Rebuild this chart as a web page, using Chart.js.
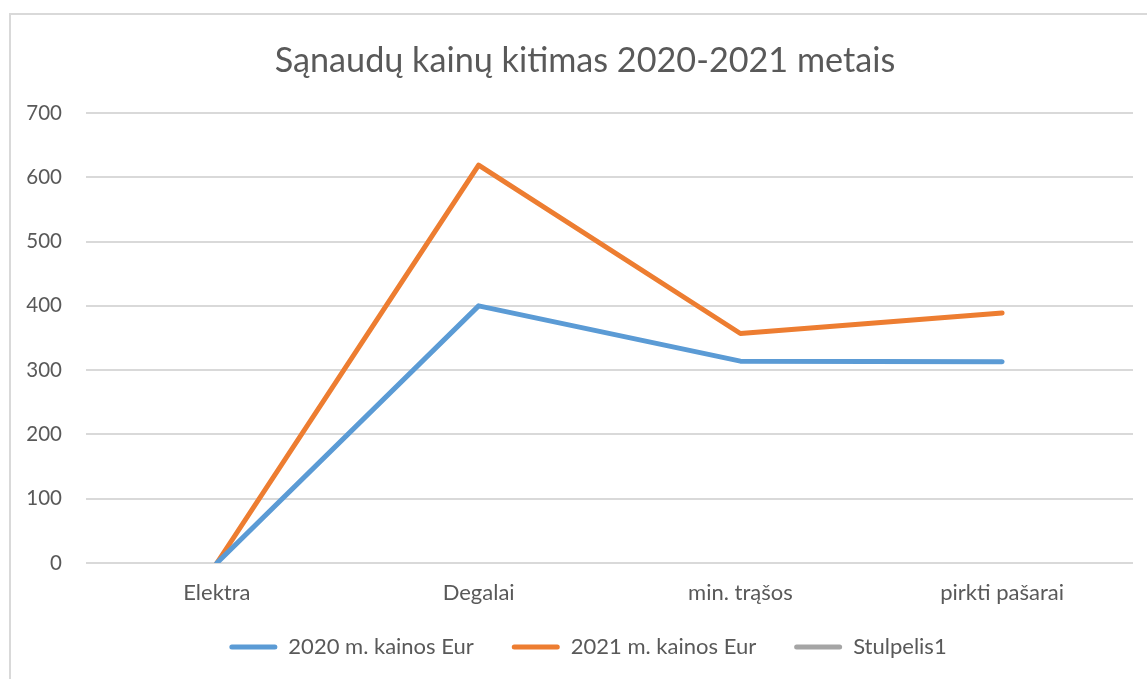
<!DOCTYPE html>
<html>
<head>
<meta charset="utf-8">
<script src="https://cdn.jsdelivr.net/npm/chart.js@4.4.1/dist/chart.umd.min.js"></script>
<style>
  html, body { margin: 0; padding: 0; background: #fff; overflow: hidden; }
  #box { position: absolute; left: 9px; top: 13px; width: 1140px; height: 664px; border: 2px solid #d9d9d9; }
  canvas { display: block; }
</style>
</head>
<body>
<div id="box"><canvas id="c" width="1140" height="664"></canvas></div>
<script>
const titleText = 'Sąnaudų kainų kitimas 2020-2021 metais';
const categories = ['Elektra', 'Degalai', 'min. trąšos', 'pirkti pašarai'];
const series2020 = [0, 400, 314, 313];
const series2021 = [0, 619, 357, 389];
const seriesStulpelis1 = [null, null, null, null];
const seriesNames = ['2020 m. kainos Eur', '2021 m. kainos Eur', 'Stulpelis1'];
const seriesColors = ['#5B9BD5', '#ED7D31', '#A5A5A5'];
const yTicks = [0, 100, 200, 300, 400, 500, 600, 700];

const FONT = 'Lato, Carlito, Calibri, "Open Sans", sans-serif';
const TXT = '#595959';

function ds(label, data, color) {
  return {
    label: label, data: data,
    borderColor: color, backgroundColor: color,
    borderWidth: 5, pointRadius: 0, pointHoverRadius: 0,
    tension: 0, borderCapStyle: 'round', borderJoinStyle: 'round',
    fill: false, spanGaps: false
  };
}

const layoutTweaks = {
  id: 'layoutTweaks',
  afterLayout(chart) {
    chart.scales.x.bottom = chart.height;
    if (chart.legend) { chart.legend.left += 16; chart.legend.right += 16; }
    if (chart.titleBlock) { chart.titleBlock.left += 13; chart.titleBlock.right += 13; }
  }
};

new Chart(document.getElementById('c'), {
  type: 'line',
  plugins: [layoutTweaks],
  data: {
    labels: categories,
    datasets: [
      ds(seriesNames[0], series2020, seriesColors[0]),
      ds(seriesNames[1], series2021, seriesColors[1]),
      ds(seriesNames[2], seriesStulpelis1, seriesColors[2])
    ]
  },
  options: {
    responsive: false,
    animation: false,
    devicePixelRatio: 1,
    layout: { padding: { left: 0, right: 18, top: 0, bottom: 11 } },
    plugins: {
      title: {
        display: true, text: titleText, color: TXT,
        font: { family: FONT, size: 34.2, weight: 'normal' },
        padding: { top: 25, bottom: 32 }
      },
      legend: {
        position: 'bottom',
        labels: {
          color: TXT,
          font: { family: FONT, size: 22 },
          boxWidth: 48, boxHeight: 5, padding: 38,
          generateLabels(chart) {
            return chart.data.datasets.map((d, i) => ({
              text: d.label, fillStyle: d.borderColor, strokeStyle: d.borderColor,
              lineWidth: 0, hidden: false, datasetIndex: i, fontColor: TXT,
              borderRadius: 2.5
            }));
          }
        }
      },
      tooltip: { enabled: false }
    },
    scales: {
      x: {
        offset: true,
        grid: { display: false, drawTicks: false },
        border: { display: false },
        ticks: { color: TXT, font: { family: FONT, size: 22 }, padding: 17, maxRotation: 0 },
        afterFit(s) { s.height = 35; }
      },
      y: {
        min: 0, max: 700,
        afterBuildTicks(s) { s.ticks = yTicks.map(v => ({ value: v })); },
        grid: { color: '#d9d9d9', lineWidth: 2, drawTicks: false },
        border: { display: false },
        ticks: { color: TXT, font: { family: FONT, size: 20.5 }, padding: 24 },
        afterFit(s) { s.width = 75; }
      }
    }
  }
});
</script>
</body>
</html>
